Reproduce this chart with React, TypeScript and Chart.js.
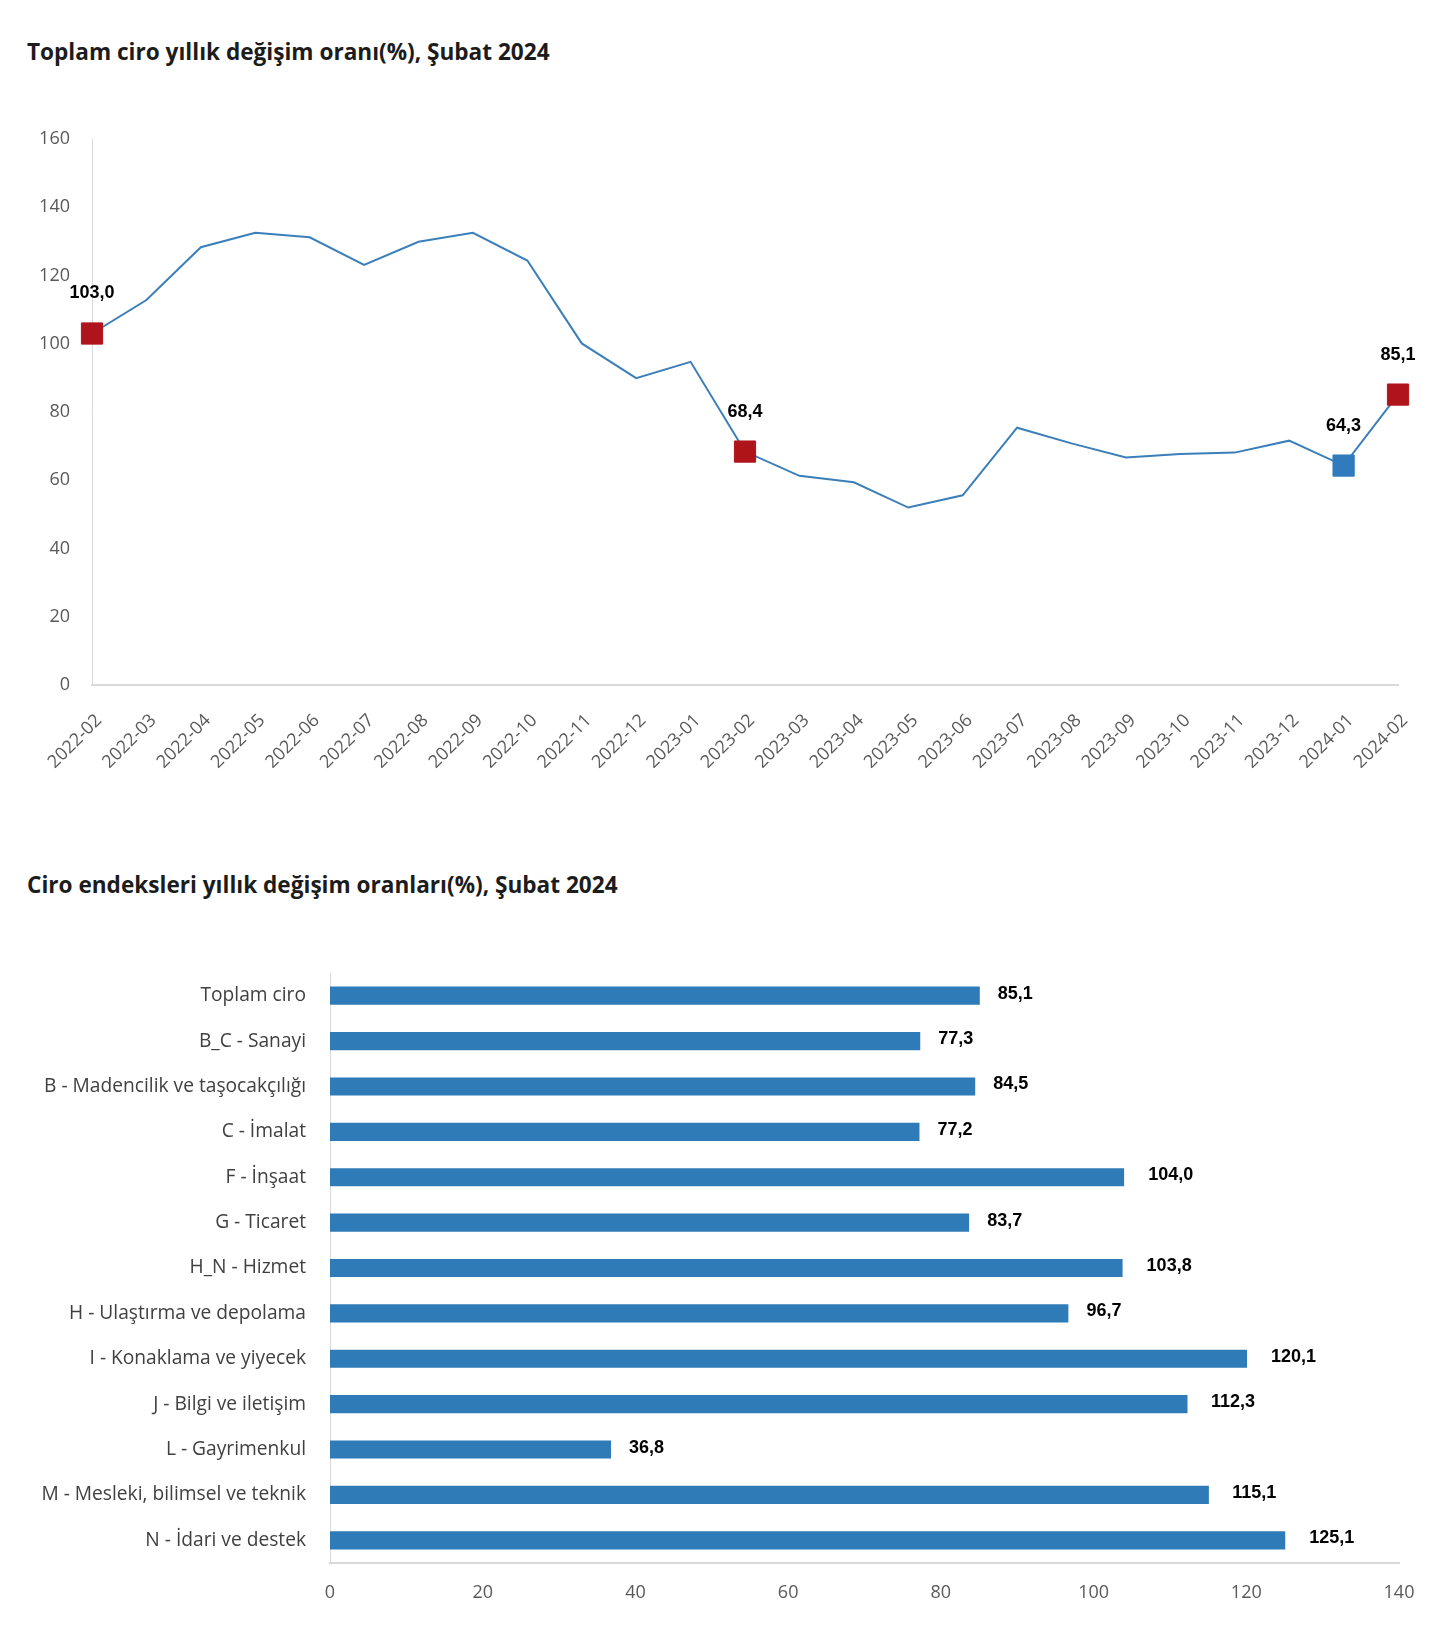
import React, { useEffect, useRef } from "react";
import { Chart, registerables } from "chart.js";

Chart.register(...registerables);

// ---------- Data ----------
const months = [
  "2022-02", "2022-03", "2022-04", "2022-05", "2022-06", "2022-07", "2022-08",
  "2022-09", "2022-10", "2022-11", "2022-12", "2023-01", "2023-02", "2023-03",
  "2023-04", "2023-05", "2023-06", "2023-07", "2023-08", "2023-09", "2023-10",
  "2023-11", "2023-12", "2024-01", "2024-02",
];
const turnoverChange = [
  103.0, 112.8, 128.3, 132.5, 131.2, 123.1, 129.9, 132.5, 124.4, 100.1, 89.9,
  94.7, 68.4, 61.3, 59.4, 52.0, 55.6, 75.4, 70.8, 66.7, 67.7, 68.1, 71.6, 64.3,
  85.1,
];
const redMarkedMonths = ["2022-02", "2023-02", "2024-02"];
const blueMarkedMonths = ["2024-01"];
const lineTicks = [0, 20, 40, 60, 80, 100, 120, 140, 160];

const sectors = [
  "Toplam ciro",
  "B_C - Sanayi",
  "B - Madencilik ve taşocakçılığı",
  "C - İmalat",
  "F - İnşaat",
  "G - Ticaret",
  "H_N - Hizmet",
  "H - Ulaştırma ve depolama",
  "I - Konaklama ve yiyecek",
  "J - Bilgi ve iletişim",
  "L - Gayrimenkul",
  "M - Mesleki, bilimsel ve teknik",
  "N - İdari ve destek",
];
const sectorChange = [
  85.1, 77.3, 84.5, 77.2, 104.0, 83.7, 103.8, 96.7, 120.1, 112.3, 36.8, 115.1,
  125.1,
];
const barTicks = [0, 20, 40, 60, 80, 100, 120, 140];

const title1 = "Toplam ciro yıllık değişim oranı(%), Şubat 2024";
const title2 = "Ciro endeksleri yıllık değişim oranları(%), Şubat 2024";

// ---------- Styles ----------
const LINE_COLOR = "#3a7fba";
const BAR_COLOR = "#2f7bb7";
const RED = "#b0141b";
const BLUE = "#2f7bbd";
const AXIS_GRAY = "#d9d9d9";
const TICK_GRAY = "#595959";
const LABEL_FONT = "bold 18px 'Liberation Sans', Arial, sans-serif";

const fmt = (v: number) => v.toFixed(1).replace(".", ",");

function markerColor(m: string) {
  if (redMarkedMonths.includes(m)) return RED;
  if (blueMarkedMonths.includes(m)) return BLUE;
  return LINE_COLOR;
}
function isMarked(m: string) {
  return redMarkedMonths.includes(m) || blueMarkedMonths.includes(m);
}

const lineLabelPlugin = {
  id: "lineLabels",
  afterDatasetsDraw(chart: any) {
    const ctx = chart.ctx;
    const meta = chart.getDatasetMeta(0);
    ctx.save();
    ctx.font = LABEL_FONT;
    ctx.fillStyle = "#000";
    ctx.textAlign = "center";
    ctx.textBaseline = "middle";
    months.forEach((m, i) => {
      if (!isMarked(m)) return;
      const p = meta.data[i];
      ctx.fillText(fmt(turnoverChange[i]), p.x, p.y - 40);
    });
    ctx.restore();
  },
};

const barLabelPlugin = {
  id: "barLabels",
  afterDatasetsDraw(chart: any) {
    const ctx = chart.ctx;
    const meta = chart.getDatasetMeta(0);
    ctx.save();
    ctx.font = LABEL_FONT;
    ctx.fillStyle = "#000";
    ctx.textAlign = "left";
    ctx.textBaseline = "middle";
    sectorChange.forEach((v, i) => {
      const b = meta.data[i];
      const t = fmt(v);
      const w = ctx.measureText(t).width;
      const gap = 18 + Math.max(0, w - 35) * 0.6;
      ctx.fillText(t, b.x + gap, b.y - 2);
    });
    ctx.restore();
  },
};

const tickFont = { family: "'Open Sans', sans-serif", size: 18 };

function LineChart() {
  const ref = useRef<HTMLCanvasElement>(null);
  useEffect(() => {
    if (!ref.current) return;
    const chart = new Chart(ref.current, {
      type: "line",
      data: {
        labels: months,
        datasets: [
          {
            data: turnoverChange,
            borderColor: LINE_COLOR,
            borderWidth: 2,
            tension: 0,
            clip: false as any,
            pointStyle: "rect",
            pointRadius: months.map((m) => (isMarked(m) ? 15 : 0)),
            pointHoverRadius: months.map((m) => (isMarked(m) ? 15 : 0)),
            pointBackgroundColor: months.map(markerColor),
            pointBorderColor: months.map(markerColor),
            pointBorderWidth: 1,
          },
        ],
      },
      options: {
        responsive: false,
        animation: false,
        events: [],
        layout: { padding: { top: 39, left: 0, right: 42, bottom: 0 } },
        plugins: { legend: { display: false }, tooltip: { enabled: false } },
        scales: {
          x: {
            grid: { display: false, drawTicks: false },
            border: { color: AXIS_GRAY, width: 2 },
            ticks: {
              autoSkip: false,
              maxRotation: 45,
              minRotation: 45,
              padding: 25,
              labelOffset: 7,
              color: TICK_GRAY,
              font: tickFont,
            },
            afterFit: (s: any) => {
              s.height = 115;
              s.paddingLeft = 0;
              s.paddingRight = 0;
            },
          },
          y: {
            min: lineTicks[0],
            max: lineTicks[lineTicks.length - 1],
            grid: { display: false, drawTicks: false },
            border: { color: AXIS_GRAY, width: 1 },
            afterBuildTicks: (s: any) => {
              s.ticks = lineTicks.map((v) => ({ value: v }));
            },
            ticks: { padding: 22, color: TICK_GRAY, font: tickFont },
            afterFit: (s: any) => {
              s.width = 92;
            },
          },
        },
      },
      plugins: [lineLabelPlugin],
    });
    return () => chart.destroy();
  }, []);
  return (
    <canvas
      ref={ref}
      width={1440}
      height={700}
      style={{ position: "absolute", left: 0, top: 100, width: 1440, height: 700 }}
    />
  );
}

function BarChart() {
  const ref = useRef<HTMLCanvasElement>(null);
  useEffect(() => {
    if (!ref.current) return;
    const chart = new Chart(ref.current, {
      type: "bar",
      data: {
        labels: sectors,
        datasets: [
          {
            data: sectorChange,
            backgroundColor: BAR_COLOR,
            borderWidth: 0,
            barPercentage: 0.4,
            categoryPercentage: 1,
          },
        ],
      },
      options: {
        indexAxis: "y",
        responsive: false,
        animation: false,
        events: [],
        layout: { padding: { top: 71, left: 0, right: 41, bottom: 29 } },
        plugins: { legend: { display: false }, tooltip: { enabled: false } },
        scales: {
          x: {
            min: barTicks[0],
            max: barTicks[barTicks.length - 1],
            grid: { display: false, drawTicks: false },
            border: { color: AXIS_GRAY, width: 2 },
            afterBuildTicks: (s: any) => {
              s.ticks = barTicks.map((v) => ({ value: v }));
            },
            ticks: { padding: 19, color: TICK_GRAY, font: tickFont },
            afterFit: (s: any) => {
              s.height = 60;
              s.paddingLeft = 0;
              s.paddingRight = 0;
            },
          },
          y: {
            grid: { display: false, drawTicks: false },
            border: { color: AXIS_GRAY, width: 1 },
            ticks: {
              padding: 24,
              color: "#404040",
              font: { family: "'Open Sans', sans-serif", size: 19.2 },
              autoSkip: false,
            },
            afterFit: (s: any) => {
              s.width = 330;
            },
          },
        },
      },
      plugins: [barLabelPlugin],
    });
    return () => chart.destroy();
  }, []);
  return (
    <canvas
      ref={ref}
      width={1440}
      height={750}
      style={{ position: "absolute", left: 0, top: 902, width: 1440, height: 750 }}
    />
  );
}

const titleStyle: React.CSSProperties = {
  position: "absolute",
  left: 27,
  margin: 0,
  fontFamily: "'Open Sans', sans-serif",
  fontWeight: 700,
  fontSize: 22.6,
  lineHeight: "23px",
  color: "#1c1c1c",
  whiteSpace: "nowrap",
};

export default function App() {
  return (
    <div
      style={{
        position: "absolute",
        left: 0,
        top: 0,
        width: 1440,
        height: 1652,
        background: "#fff",
        overflow: "hidden",
      }}
    >
      <div style={{ ...titleStyle, top: 40 }}>{title1}</div>
      <LineChart />
      <div style={{ ...titleStyle, top: 873 }}>{title2}</div>
      <BarChart />
    </div>
  );
}
